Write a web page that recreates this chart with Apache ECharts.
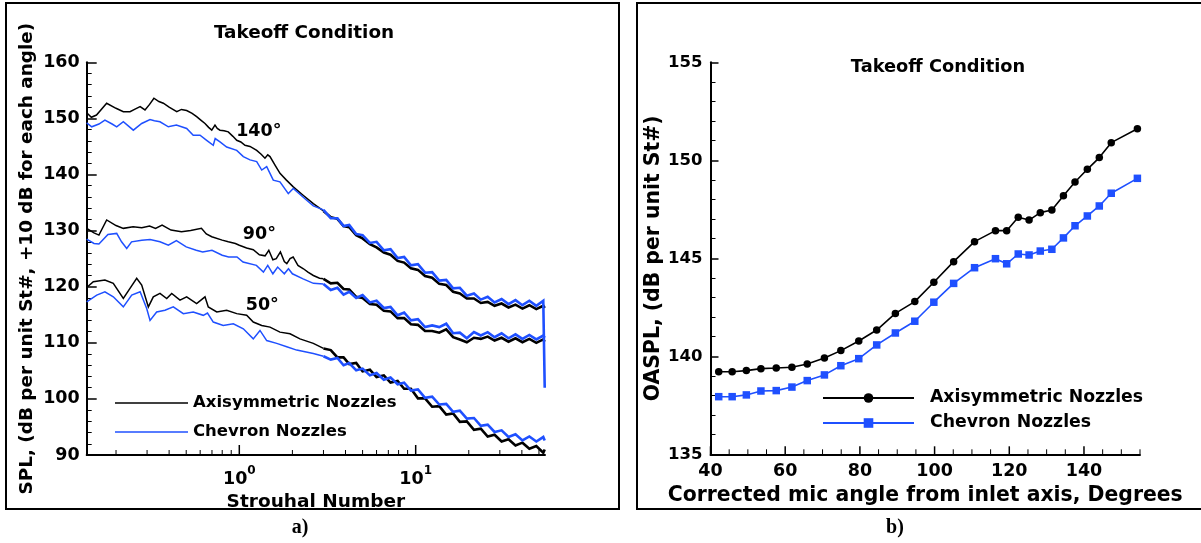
<!DOCTYPE html>
<html><head><meta charset="utf-8">
<script src="https://cdn.jsdelivr.net/npm/echarts@6/dist/echarts.min.js"></script>
<style>html,body{margin:0;padding:0;background:#fff}#c{width:1201px;height:543px}</style>
</head><body><div id="c"></div>
<script>
// ---------------- DATA ----------------
// Panel a) : SPL spectra vs Strouhal number, [St, dB]
const axi140 = [[0.1364,151.0],[0.145,150.2],[0.155,150.6],[0.177,152.7],[0.2,151.8],[0.22,151.2],[0.24,151.2],[0.258,151.7],[0.274,152.1],[0.292,151.5],[0.31,152.5],[0.328,153.6],[0.35,153.0],[0.371,152.7],[0.4,152.0],[0.442,151.2],[0.47,151.6],[0.503,151.4],[0.54,150.9],[0.573,150.3],[0.605,149.7],[0.639,149.1],[0.67,148.4],[0.698,147.9],[0.728,148.8],[0.75,148.2],[0.777,147.9],[0.82,147.8],[0.866,147.6],[0.92,146.8],[0.967,146.1],[1.02,145.8],[1.077,145.2],[1.15,145.0],[1.255,144.3],[1.33,143.6],[1.398,142.9],[1.45,143.5],[1.493,143.2],[1.6,141.6],[1.701,140.2],[1.85,139.0],[2.023,137.8],[2.3,136.3],[2.628,134.8],[3.0,133.5],[3.3,132.4],[3.6,132.1],[3.9,130.8],[4.2,130.6],[4.6,129.2],[5.0,128.6],[5.5,127.6],[6.0,127.0],[6.6,126.1],[7.2,125.7],[7.9,124.6],[8.6,124.3],[9.4,123.3],[10.3,123.0],[11.3,121.9],[12.4,121.6],[13.6,120.5],[14.9,120.3],[16.3,119.1],[17.8,118.8],[19.5,117.9],[21.4,117.9],[23.4,117.1],[25.6,117.3],[28,116.6],[30.7,117.0],[33.6,116.3],[36.8,116.8],[40.3,116.1],[44.1,116.7],[48.3,116.0],[52.9,116.6],[53.9,116.2]];
const che140 = [[0.1364,149.2],[0.1457,148.5],[0.16,149.0],[0.173,149.7],[0.19,149.0],[0.2018,148.5],[0.22,149.4],[0.2507,147.9],[0.2797,149.1],[0.3118,149.8],[0.33,149.6],[0.355,149.4],[0.396,148.5],[0.44,148.8],[0.503,148.2],[0.548,147.0],[0.599,147.0],[0.653,146.1],[0.712,145.2],[0.73,146.4],[0.777,145.8],[0.848,144.9],[0.967,144.3],[1.054,143.2],[1.15,142.6],[1.255,142.3],[1.34,140.8],[1.43,141.4],[1.558,139.0],[1.7,138.7],[1.896,136.6],[2.023,137.5],[2.41,135.4],[2.628,134.4],[3.0,133.7],[3.3,132.2],[3.6,132.2],[3.9,130.8],[4.2,131.0],[4.6,129.4],[5.0,129.2],[5.5,127.8],[6.0,128.0],[6.6,126.5],[7.2,126.7],[7.9,125.1],[8.6,125.3],[9.4,123.8],[10.3,124.0],[11.3,122.5],[12.4,122.6],[13.6,121.1],[14.9,121.2],[16.3,119.7],[17.8,119.8],[19.5,118.4],[21.4,118.8],[23.4,117.7],[25.6,118.2],[28,117.2],[30.7,117.8],[33.6,116.9],[36.8,117.6],[40.3,116.7],[44.1,117.5],[48.3,116.6],[52.9,117.5],[53.9,102.0]];
const axi90 = [[0.1364,130.4],[0.15,129.6],[0.16,129.2],[0.177,131.9],[0.2,130.9],[0.22,130.4],[0.25,130.7],[0.28,130.5],[0.31,130.8],[0.335,130.4],[0.365,131.0],[0.41,130.1],[0.47,129.8],[0.53,130.0],[0.61,130.4],[0.65,129.4],[0.698,128.9],[0.8,128.3],[0.866,128.0],[0.95,127.7],[1.0,127.4],[1.1,126.9],[1.2,126.6],[1.3,125.7],[1.4,125.5],[1.47,126.5],[1.55,124.8],[1.62,125.0],[1.71,126.2],[1.8,124.5],[1.86,124.1],[1.94,125.0],[2.02,125.3],[2.15,123.8],[2.31,123.2],[2.45,122.6],[2.63,122.0],[2.85,121.5],[3.0,121.4],[3.3,120.6],[3.6,120.7],[3.9,119.6],[4.2,119.5],[4.6,118.2],[5.0,118.0],[5.5,116.9],[6.0,116.8],[6.6,115.7],[7.2,115.6],[7.9,114.4],[8.6,114.4],[9.4,113.3],[10.3,113.2],[11.3,112.1],[12.4,112.1],[13.6,111.8],[14.9,112.4],[16.3,111.0],[17.8,110.6],[19.5,110.1],[21.4,110.9],[23.4,110.7],[25.6,111.1],[28,110.4],[30.7,110.9],[33.6,110.2],[36.8,110.8],[40.3,110.1],[44.1,110.7],[48.3,110.0],[52.9,110.6],[53.9,110.2]];
const che90 = [[0.1364,128.5],[0.15,127.7],[0.16,127.6],[0.18,129.3],[0.2018,129.5],[0.215,128.0],[0.23,126.8],[0.245,128.0],[0.28,128.3],[0.312,128.4],[0.355,128.0],[0.396,127.4],[0.44,128.2],[0.5,127.1],[0.57,126.5],[0.62,126.2],[0.7,126.5],[0.8,125.6],[0.87,125.3],[0.97,125.3],[1.05,124.4],[1.25,123.8],[1.37,122.6],[1.45,123.8],[1.55,122.3],[1.65,123.5],[1.8,122.3],[1.9,123.2],[2.0,122.3],[2.3,121.4],[2.63,120.6],[3.0,120.5],[3.3,119.4],[3.6,119.8],[3.9,118.6],[4.2,119.1],[4.6,118.0],[5.0,118.5],[5.5,117.2],[6.0,117.5],[6.6,116.2],[7.2,116.4],[7.9,114.9],[8.6,115.4],[9.4,114.0],[10.3,114.2],[11.3,112.8],[12.4,113.1],[13.6,112.8],[14.9,113.4],[16.3,111.7],[17.8,111.8],[19.5,110.8],[21.4,111.9],[23.4,111.3],[25.6,111.9],[28,111.0],[30.7,111.7],[33.6,110.8],[36.8,111.5],[40.3,110.7],[44.1,111.4],[48.3,110.6],[52.9,111.3],[53.9,110.9]];
const axi50 = [[0.1364,119.85],[0.1487,120.9],[0.173,121.2],[0.193,120.6],[0.22,117.9],[0.24,119.7],[0.262,121.5],[0.2797,120.3],[0.305,116.4],[0.3254,118.2],[0.355,118.8],[0.3877,117.9],[0.4138,118.8],[0.461,117.6],[0.503,118.2],[0.573,117.0],[0.639,118.2],[0.667,116.4],[0.745,115.5],[0.848,115.8],[0.967,115.2],[1.101,114.9],[1.2,113.7],[1.34,113.1],[1.493,112.8],[1.70,111.9],[1.939,111.6],[2.208,110.7],[2.628,109.9],[3.0,109.0],[3.3,108.7],[3.6,107.4],[3.9,107.4],[4.2,106.2],[4.6,106.4],[5.0,104.9],[5.5,105.2],[6.0,103.9],[6.6,104.2],[7.2,102.9],[7.9,103.2],[8.6,101.8],[9.4,101.8],[10.3,100.1],[11.3,100.1],[12.4,98.6],[13.6,98.7],[14.9,97.2],[16.3,97.4],[17.8,95.9],[19.5,96.0],[21.4,94.5],[23.4,94.7],[25.6,93.3],[28,93.6],[30.7,92.4],[33.6,92.8],[36.8,91.7],[40.3,92.2],[44.1,91.1],[48.3,91.6],[52.9,90.4],[53.9,91.0]];
const che50 = [[0.1364,117.3],[0.1555,118.5],[0.173,119.1],[0.193,118.2],[0.22,116.4],[0.2455,118.5],[0.274,119.1],[0.2985,116.1],[0.3118,114.0],[0.34,115.5],[0.379,115.8],[0.4224,116.4],[0.4816,115.2],[0.548,115.5],[0.625,114.9],[0.66,115.3],[0.712,113.7],[0.811,113.1],[0.925,113.4],[1.054,112.5],[1.2,110.7],[1.31,112.2],[1.43,110.4],[1.63,109.9],[1.857,109.3],[2.115,108.7],[2.628,108.1],[3.0,107.6],[3.3,107.0],[3.6,107.3],[3.9,106.0],[4.2,106.4],[4.6,105.1],[5.0,105.4],[5.5,104.2],[6.0,104.6],[6.6,103.4],[7.2,103.8],[7.9,102.6],[8.6,102.9],[9.4,101.5],[10.3,101.7],[11.3,100.2],[12.4,100.4],[13.6,99.0],[14.9,99.1],[16.3,97.7],[17.8,97.9],[19.5,96.5],[21.4,96.6],[23.4,95.2],[25.6,95.4],[28,94.1],[30.7,94.4],[33.6,93.2],[36.8,93.7],[40.3,92.6],[44.1,93.3],[48.3,92.4],[52.9,93.2],[53.9,92.6]];
const angleNames = ['140°', '90°', '50°'];
const angleNameSt = [1.29, 1.30, 1.35];
const angleNameDb = [147.6, 129.4, 116.7];
const noisyFrom = 3.0;   // Strouhal number where the spectra become a broadband noisy band
const logMinorTicks = [0.2,0.3,0.4,0.5,0.6,0.7,0.8,0.9,1,2,3,4,5,6,7,8,9,10,20,30,40,50];

// Panel b) : OASPL vs corrected mic angle
const micAngle = [42.2,45.8,49.6,53.5,57.6,61.8,65.9,70.5,74.9,79.7,84.5,89.5,94.7,99.8,105.1,110.7,116.3,119.3,122.4,125.3,128.3,131.4,134.5,137.6,140.9,144.1,147.3,154.3];
const oasplAxi = [139.21,139.21,139.27,139.37,139.40,139.44,139.61,139.91,140.29,140.78,141.34,142.19,142.79,143.78,144.83,145.85,146.41,146.41,147.09,146.95,147.33,147.46,148.19,148.89,149.54,150.14,150.90,151.61];
const oasplChe = [137.94,137.94,138.03,138.23,138.25,138.43,138.76,139.05,139.52,139.88,140.58,141.19,141.79,142.76,143.72,144.52,144.98,144.72,145.22,145.17,145.37,145.46,146.04,146.66,147.16,147.67,148.32,149.08];
const angleTicks = [40,45,50,55,60,65,70,75,80,85,90,95,100,105,110,115,120,125,130,135,140,145,150,155];

// ---------------- CHART ----------------
const FF = "'DejaVu Sans', sans-serif";
const BLUE = '#1f50ff';
const chart = echarts.init(document.getElementById('c'), null, {renderer: 'canvas'});
const isPow10 = v => Math.abs(Math.log10(v) - Math.round(Math.log10(v))) < 1e-6;
const zip = (a, b) => a.map((x, i) => [x, b[i]]);
const txt = (size, extra) => Object.assign({fontFamily: FF, fontWeight: 'bold', fontSize: size, color: '#000'}, extra || {});

function spec(name, data, color, noisy) {
  const part = noisy ? data.filter(p => p[0] >= noisyFrom) : data.filter(p => p[0] <= noisyFrom);
  return {type: 'line', name: name, xAxisIndex: 0, yAxisIndex: 0, data: part, symbol: 'none',
    lineStyle: {color: color, width: noisy ? 2.6 : 1.5, join: 'miter'}, itemStyle: {color: color},
    z: color === BLUE ? 3 : 2};
}

const series = [];
[[axi140, che140], [axi90, che90], [axi50, che50]].forEach(pair => {
  series.push(spec('Axisymmetric Nozzles', pair[0], '#000', false));
  series.push(spec('Axisymmetric Nozzles', pair[0], '#000', true));
});
[[axi140, che140], [axi90, che90], [axi50, che50]].forEach(pair => {
  series.push(spec('Chevron Nozzles', pair[1], BLUE, false));
  series.push(spec('Chevron Nozzles', pair[1], BLUE, true));
});
series.push({type: 'line', name: 'Axisymmetric Nozzles (b)', xAxisIndex: 1, yAxisIndex: 1, data: zip(micAngle, oasplAxi),
  symbol: 'circle', symbolSize: 7.5, lineStyle: {color: '#000', width: 1.6}, itemStyle: {color: '#000'}});
series.push({type: 'line', name: 'Chevron Nozzles (b)', xAxisIndex: 1, yAxisIndex: 1, data: zip(micAngle, oasplChe),
  symbol: 'rect', symbolSize: 7.5, lineStyle: {color: BLUE, width: 1.6}, itemStyle: {color: BLUE}});

chart.setOption({
  animation: false,
  backgroundColor: '#fff',
  grid: [
    {left: 86.7, top: 62.3, width: 458.3, height: 392.7},
    {left: 710.5, top: 62.3, width: 429.5, height: 392}
  ],
  xAxis: [
    {type: 'log', logBase: 10, gridIndex: 0, min: 0.1364, max: 54.1,
     axisLine: {lineStyle: {color: '#000', width: 2}}, axisTick: {show: false}, splitLine: {show: false},
     axisLabel: {margin: 10, formatter: v => isPow10(v) ? '{b|10}{s|' + Math.round(Math.log10(v)) + '}' : '',
       rich: {b: txt(17.5, {lineHeight: 28}), s: txt(12, {lineHeight: 12, verticalAlign: 'top'})}},
     name: 'Strouhal Number', nameLocation: 'middle', nameGap: 29, nameTextStyle: txt(18.5)},
    {type: 'value', gridIndex: 1, min: 40, max: 155, interval: 20,
     axisLine: {lineStyle: {color: '#000', width: 2}}, axisTick: {show: false}, splitLine: {show: false},
     axisLabel: Object.assign(txt(17.5), {margin: 8, formatter: v => v % 20 === 0 ? String(v) : ''}),
     name: 'Corrected mic angle from inlet axis, Degrees', nameLocation: 'middle', nameGap: 31, nameTextStyle: txt(20.4)}
  ],
  yAxis: [
    {type: 'value', gridIndex: 0, min: 90, max: 160, interval: 10,
     axisLine: {show: true, lineStyle: {color: '#000', width: 2}},
     axisTick: {show: true, inside: true, length: 10, lineStyle: {color: '#000', width: 1.5}},
     minorTick: {show: true, splitNumber: 5, length: 5, lineStyle: {color: '#000', width: 1}},
     splitLine: {show: false}, axisLabel: Object.assign(txt(17.5), {margin: 7}),
     name: 'SPL, (dB per unit St#, +10 dB for each angle)', nameLocation: 'middle', nameGap: 50, nameTextStyle: txt(18.4)},
    {type: 'value', gridIndex: 1, min: 135, max: 155, interval: 5,
     axisLine: {show: true, lineStyle: {color: '#000', width: 2}},
     axisTick: {show: true, inside: true, length: 8, lineStyle: {color: '#000', width: 1.5}},
     minorTick: {show: true, splitNumber: 5, length: 5, lineStyle: {color: '#000', width: 1}},
     splitLine: {show: false}, axisLabel: Object.assign(txt(16.5), {margin: 8}),
     name: 'OASPL, (dB per unit St#)', nameLocation: 'middle', nameGap: 47, nameTextStyle: txt(20.4)}
  ],
  legend: [
    {data: ['Axisymmetric Nozzles', 'Chevron Nozzles'], orient: 'vertical', left: 115, top: 393, padding: 0,
     icon: 'rect', itemWidth: 73, itemHeight: 1.6, itemGap: 9, selectedMode: false,
     textStyle: txt(16.5, {lineHeight: 20})},
    {data: ['Axisymmetric Nozzles (b)', 'Chevron Nozzles (b)'], orient: 'vertical', left: 822, top: 388, padding: 0,
     itemWidth: 91, itemHeight: 12, itemGap: 5, selectedMode: false,
     formatter: n => n.replace(' (b)', ''),
     textStyle: txt(17.3, {lineHeight: 20, padding: [0, 0, 0, 11]})}
  ],
  series: series
});

function textEl(str, x, y, font, align) {
  return {type: 'text', silent: true, z: 10,
    style: {text: str, x: x, y: y, font: font, fill: '#000',
      align: align || 'center', textAlign: align || 'center', verticalAlign: 'middle', textVerticalAlign: 'middle'}};
}
const g = [];
g.push({type: 'rect', silent: true, shape: {x: 6, y: 3, width: 613, height: 506}, style: {fill: 'none', stroke: '#000', lineWidth: 2}});
g.push({type: 'rect', silent: true, shape: {x: 637, y: 3, width: 566, height: 506}, style: {fill: 'none', stroke: '#000', lineWidth: 2}});
g.push(textEl('Takeoff Condition', 304, 33, "bold 18.4px 'DejaVu Sans'"));
g.push(textEl('Takeoff Condition', 938, 67, "bold 17.8px 'DejaVu Sans'"));
g.push(textEl('a)', 300, 528, "bold 20px 'Liberation Serif'"));
g.push(textEl('b)', 895, 528, "bold 20px 'Liberation Serif'"));
angleNames.forEach((n, i) => {
  const p = chart.convertToPixel({gridIndex: 0}, [angleNameSt[i], angleNameDb[i]]);
  g.push(textEl(n, p[0], p[1], "bold 17.5px 'DejaVu Sans'"));
});
logMinorTicks.forEach(v => {
  const p = chart.convertToPixel({gridIndex: 0}, [v, 90]);
  const major = isPow10(v);
  g.push({type: 'line', silent: true, shape: {x1: p[0], y1: p[1], x2: p[0], y2: p[1] - (major ? 10 : 5)},
    style: {stroke: '#000', lineWidth: major ? 1.5 : 1}});
});
angleTicks.forEach(v => {
  const p = chart.convertToPixel({gridIndex: 1}, [v, 135]);
  const major = v % 20 === 0;
  g.push({type: 'line', silent: true, shape: {x1: p[0], y1: p[1], x2: p[0], y2: p[1] - (major ? 8 : 5)},
    style: {stroke: '#000', lineWidth: major ? 1.5 : 1}});
});
chart.setOption({graphic: g});
</script>
</body></html>
